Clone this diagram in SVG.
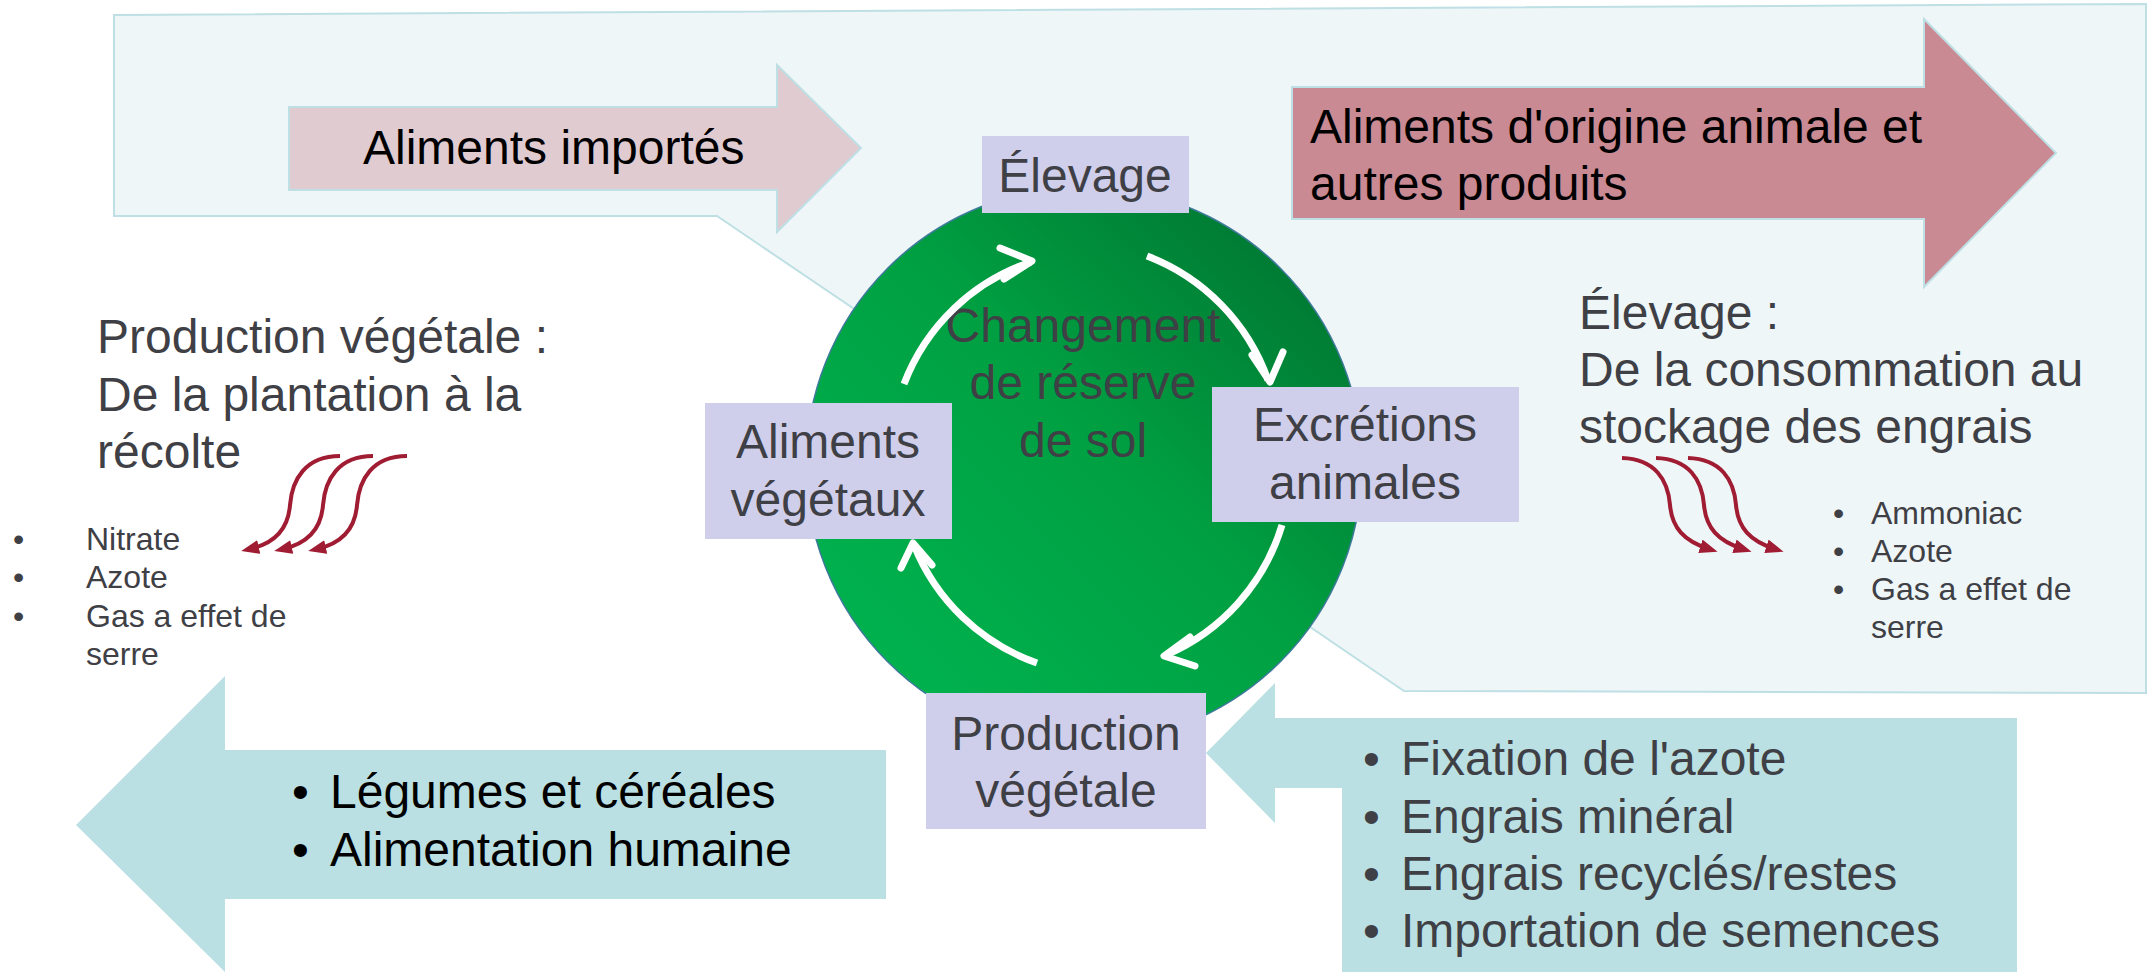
<svg xmlns="http://www.w3.org/2000/svg" width="2148" height="972" viewBox="0 0 2148 972">
<defs>
<linearGradient id="grn" x1="0.15" y1="0.85" x2="0.85" y2="0.15">
<stop offset="0" stop-color="#00B14E"/>
<stop offset="0.55" stop-color="#00A042"/>
<stop offset="1" stop-color="#007C34"/>
</linearGradient>
<marker id="rh" viewBox="0 0 18 14" refX="9" refY="7" markerWidth="18" markerHeight="14" markerUnits="userSpaceOnUse" orient="auto">
<path d="M0,0 L18,7 L0,14 z" fill="#A01C33"/>
</marker>
<style>
text{font-family:"Liberation Sans",Arial,sans-serif}
.big{font-size:48px}
.sm{font-size:32px}
.dk{fill:#3F4045}
.bk{fill:#000}
.box{fill:#CFCFEC}
.wa{fill:none;stroke:#fff;stroke-width:7}
.ch{fill:none;stroke:#fff;stroke-width:7;stroke-linecap:round;stroke-linejoin:round}
.cu{fill:none;stroke:#A01C33;stroke-width:4}
</style>
</defs>
<rect width="2148" height="972" fill="#fff"/>

<g id="background">
<polygon points="114,15 2146,4 2146,693 1404,691 1250,586 900,340 717,216 114,216" fill="#EEF6F8" stroke="#BEDFE4" stroke-width="2"/>
</g>

<g id="aliments-importes">
<polygon points="289,107 777,107 777,65 861,148 777,232 777,190 289,190" fill="#E0CBD0" stroke="#BEDFE4" stroke-width="2"/>
<text class="big bk" x="363" y="164">Aliments importés</text>
</g>

<g id="aliments-origine-animale">
<polygon points="1292,87 1924,87 1924,19 2056,153 1924,287 1924,219 1292,219" fill="#C98A93" stroke="#BEDFE4" stroke-width="2"/>
<text class="big bk" x="1310" y="143">Aliments d'origine animale et</text>
<text class="big bk" x="1310" y="200">autres produits</text>
</g>

<g id="sortie-vegetale">
<polygon points="76,825 225,676 225,750 886,750 886,899 225,899 225,972" fill="#BAE0E3"/>
<text class="big bk" x="292" y="808">•</text>
<text class="big bk" x="330" y="808">Légumes et céréales</text>
<text class="big bk" x="292" y="866">•</text>
<text class="big bk" x="330" y="866">Alimentation humaine</text>
</g>

<g id="entrees-vegetale">
<polygon points="1206,753 1275,683 1275,718 2017,718 2017,972 1342,972 1342,788 1275,788 1275,823" fill="#BAE0E3"/>
<text class="big dk" x="1363" y="775">•</text>
<text class="big dk" x="1401" y="775">Fixation de l'azote</text>
<text class="big dk" x="1363" y="833">•</text>
<text class="big dk" x="1401" y="833">Engrais minéral</text>
<text class="big dk" x="1363" y="890">•</text>
<text class="big dk" x="1401" y="890">Engrais recyclés/restes</text>
<text class="big dk" x="1363" y="947">•</text>
<text class="big dk" x="1401" y="947">Importation de semences</text>
</g>

<g id="reserve-sol">
<circle cx="1084" cy="465" r="278" fill="url(#grn)" stroke="#3E7A9A" stroke-width="1.5"/>
<text class="big dk" x="1083" y="342" text-anchor="middle">Changement</text>
<text class="big dk" x="1083" y="399" text-anchor="middle">de réserve</text>
<text class="big dk" x="1083" y="457" text-anchor="middle">de sol</text>
</g>

<g id="connectors">
<path class="wa" d="M904,384 A206,206 0 0 1 1031,262"/>
<polyline class="ch" points="1000,248 1032,261 1004,279"/>
<path class="wa" d="M1147,256 A206,206 0 0 1 1268,380"/>
<polyline class="ch" points="1252,355 1270,382 1283,352"/>
<path class="wa" d="M1282,525 A206,206 0 0 1 1166,655"/>
<polyline class="ch" points="1190,637 1164,656 1195,666"/>
<path class="wa" d="M1037,663 A206,206 0 0 1 914,545"/>
<polyline class="ch" points="901,568 913,543 932,565"/>

<path class="cu" marker-end="url(#rh)" d="M340,456 C305,456 292,480 290,505 C288,532 272,544 250,549"/>
<path class="cu" marker-end="url(#rh)" transform="translate(33,0)" d="M340,456 C305,456 292,480 290,505 C288,532 272,544 250,549"/>
<path class="cu" marker-end="url(#rh)" transform="translate(67,0)" d="M340,456 C305,456 292,480 290,505 C288,532 272,544 250,549"/>

<path class="cu" marker-end="url(#rh)" d="M1622,458 C1655,459 1668,480 1670,505 C1672,528 1684,541 1709,549"/>
<path class="cu" marker-end="url(#rh)" transform="translate(34,0)" d="M1622,458 C1655,459 1668,480 1670,505 C1672,528 1684,541 1709,549"/>
<path class="cu" marker-end="url(#rh)" transform="translate(66,0)" d="M1622,458 C1655,459 1668,480 1670,505 C1672,528 1684,541 1709,549"/>
</g>

<g id="elevage">
<rect class="box" x="982" y="136" width="207" height="77"/>
<text class="big dk" x="1085" y="192" text-anchor="middle">Élevage</text>
</g>

<g id="aliments-vegetaux">
<rect class="box" x="705" y="403" width="247" height="136"/>
<text class="big dk" x="828" y="458" text-anchor="middle">Aliments</text>
<text class="big dk" x="828" y="516" text-anchor="middle">végétaux</text>
</g>

<g id="excretions-animales">
<rect class="box" x="1212" y="387" width="307" height="135"/>
<text class="big dk" x="1365" y="441" text-anchor="middle">Excrétions</text>
<text class="big dk" x="1365" y="499" text-anchor="middle">animales</text>
</g>

<g id="production-vegetale">
<rect class="box" x="926" y="693" width="280" height="136"/>
<text class="big dk" x="1066" y="750" text-anchor="middle">Production</text>
<text class="big dk" x="1066" y="807" text-anchor="middle">végétale</text>
</g>

<g id="titre-production">
<text class="big dk" x="97" y="353">Production végétale :</text>
<text class="big dk" x="97" y="411">De la plantation à la</text>
<text class="big dk" x="97" y="468">récolte</text>
<text class="sm dk" x="13" y="550">•</text>
<text class="sm dk" x="86" y="550">Nitrate</text>
<text class="sm dk" x="13" y="588">•</text>
<text class="sm dk" x="86" y="588">Azote</text>
<text class="sm dk" x="13" y="627">•</text>
<text class="sm dk" x="86" y="627">Gas a effet de</text>
<text class="sm dk" x="86" y="665">serre</text>
</g>

<g id="titre-elevage">
<text class="big dk" x="1579" y="329">Élevage :</text>
<text class="big dk" x="1579" y="386">De la consommation au</text>
<text class="big dk" x="1579" y="443">stockage des engrais</text>
<text class="sm dk" x="1833" y="524">•</text>
<text class="sm dk" x="1871" y="524">Ammoniac</text>
<text class="sm dk" x="1833" y="562">•</text>
<text class="sm dk" x="1871" y="562">Azote</text>
<text class="sm dk" x="1833" y="600">•</text>
<text class="sm dk" x="1871" y="600">Gas a effet de</text>
<text class="sm dk" x="1871" y="638">serre</text>
</g>
</svg>
